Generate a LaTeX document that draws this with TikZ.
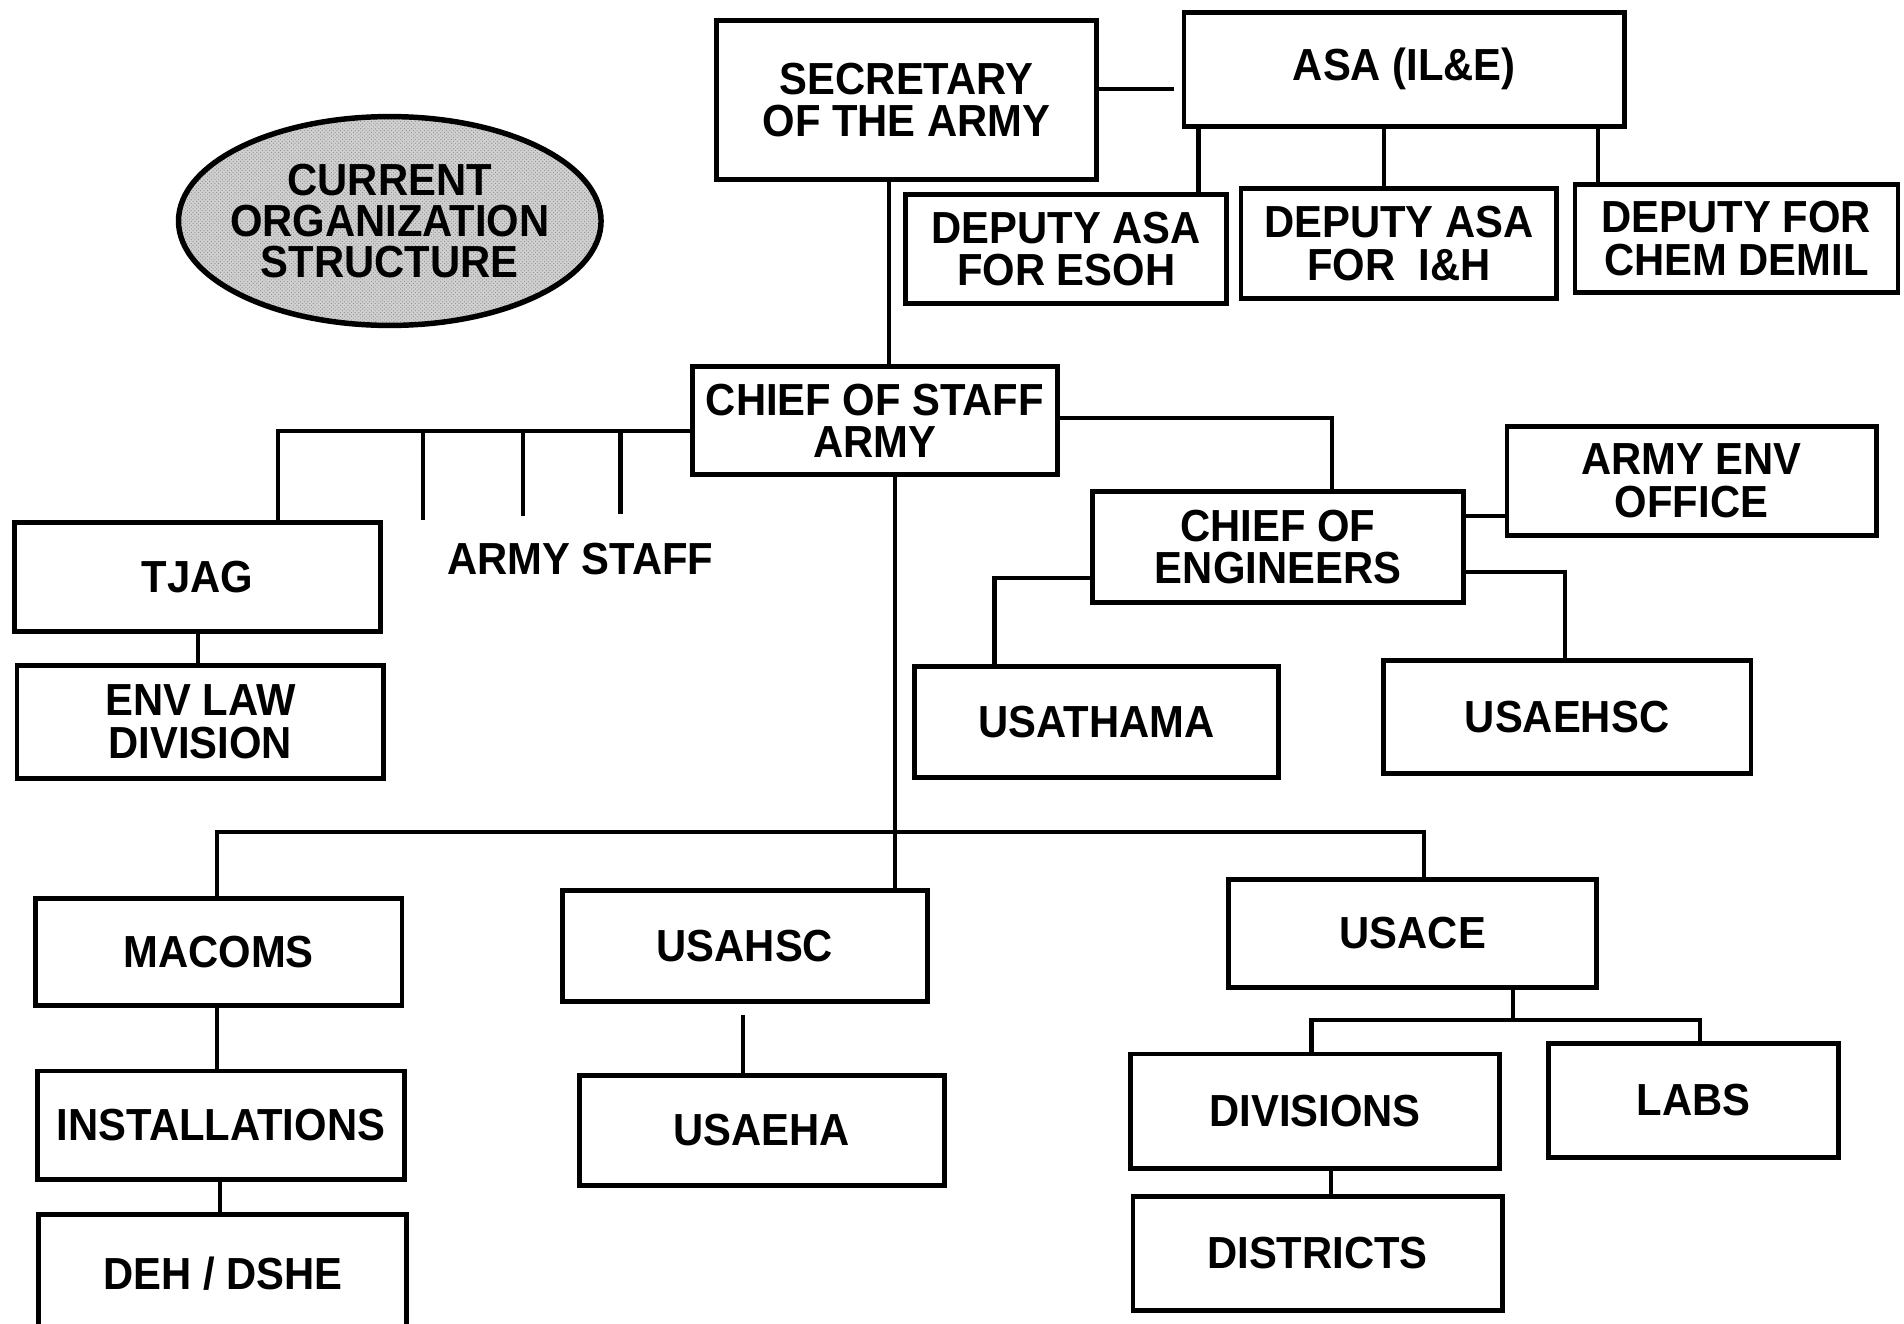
\documentclass[tikz,border=0pt]{standalone}
\usepackage{fontspec}
\setmainfont{Liberation Sans}[FakeStretch=0.93]
\usetikzlibrary{patterns}
\begin{document}
\begin{tikzpicture}[x=1pt,y=-1pt,
  box/.style={draw, line width=4pt, inner sep=0pt, outer sep=0pt, align=center,
    font=\fontsize{37}{35}\selectfont\bfseries},
  conn/.style={line width=3.4pt},
  lbl/.style={inner sep=0pt, align=center, font=\fontsize{37}{35}\selectfont\bfseries}]
\useasboundingbox (0,0) rectangle (1568,1090);
\fill[white] (0,0) rectangle (1568,1090);

% ellipse title
\fill[black!18] (321,182) ellipse [x radius=174, y radius=86];
\fill[pattern=crosshatch dots, pattern color=black!45] (321,182) ellipse [x radius=174, y radius=86];
\draw[line width=4.5pt] (321,182) ellipse [x radius=174, y radius=86];
\node[lbl, font=\fontsize{37}{34}\selectfont\bfseries] (title) at (321,182)
  {CURRENT\\ORGANIZATION\\STRUCTURE};

% boxes
\node[box, minimum width=313pt, minimum height=131pt] (sec) at (746.5,82.5) {SECRETARY\\OF THE ARMY};
\node[box, minimum width=363pt, minimum height=94pt] (asa) at (1156.5,57) {ASA (IL\&E)};
\node[box, minimum width=264pt, minimum height=90pt] (desoh) at (878,205) {DEPUTY ASA\\FOR ESOH};
\node[box, minimum width=260pt, minimum height=91pt] (dih) at (1152,200.5) {DEPUTY ASA\\FOR\ \ I\&H};
\node[box, minimum width=266pt, minimum height=89pt] (dchem) at (1430,196.5) {DEPUTY FOR\\CHEM DEMIL};
\node[box, minimum width=301pt, minimum height=89pt] (cos) at (720.5,346.5) {CHIEF OF STAFF\\ARMY};
\node[box, minimum width=301pt, minimum height=90pt] (tjag) at (162.5,475) {TJAG};
\node[box, minimum width=302pt, minimum height=93pt] (envlaw) at (165,594.5) {ENV LAW\\DIVISION};
\node[lbl] (astaff) at (478,460) {ARMY STAFF};
\node[box, minimum width=305pt, minimum height=91pt] (coe) at (1052.5,450.5) {CHIEF OF\\ENGINEERS};
\node[box, minimum width=304pt, minimum height=90pt] (aeo) at (1393,396) {ARMY ENV\\OFFICE};
\node[box, minimum width=300pt, minimum height=91pt] (usathama) at (903,594.5) {USATHAMA};
\node[box, minimum width=303pt, minimum height=93pt] (usaehsc) at (1290.5,590.5) {USAEHSC};
\node[box, minimum width=302pt, minimum height=88pt] (macoms) at (180,784) {MACOMS};
\node[box, minimum width=302pt, minimum height=89pt] (inst) at (182,926.5) {INSTALLATIONS};
\node[box, minimum width=303pt, minimum height=98pt] (deh) at (183.5,1049) {DEH / DSHE};
\node[box, minimum width=301pt, minimum height=92pt] (usahsc) at (613.5,779) {USAHSC};
\node[box, minimum width=301pt, minimum height=90pt] (usaeha) at (627.5,931) {USAEHA};
\node[box, minimum width=303pt, minimum height=89pt] (usace) at (1163.5,768.5) {USACE};
\node[box, minimum width=304pt, minimum height=94pt] (divisions) at (1083,915) {DIVISIONS};
\node[box, minimum width=239pt, minimum height=94pt] (labs) at (1394.5,906) {LABS};
\node[box, minimum width=304pt, minimum height=94pt] (districts) at (1085,1032) {DISTRICTS};

% helper coordinates
\coordinate (ya) at (0,73);
\coordinate (x1) at (987,0);
\coordinate (x2) at (1140,0);
\coordinate (x3) at (1316,0);
\coordinate (xb) at (732,0);
\coordinate (yc) at (0,355);
\coordinate (xt) at (229,0);
\coordinate (s1) at (348,428);
\coordinate (s2) at (431,425);
\coordinate (s3) at (511,423);
\coordinate (xe) at (163,0);
\coordinate (yd) at (0,344);
\coordinate (xf) at (1097,0);
\coordinate (ye) at (0,425);
\coordinate (yf) at (0,476);
\coordinate (xg) at (819,0);
\coordinate (yg) at (0,471);
\coordinate (xk) at (1289,0);
\coordinate (xh) at (737,0);
\coordinate (yh) at (0,685);
\coordinate (xm) at (179,0);
\coordinate (xu) at (1173,0);
\coordinate (xi) at (181,0);
\coordinate (xj) at (612,0);
\coordinate (xv) at (1246,0);
\coordinate (yv) at (0,840);
\coordinate (xdv) at (1080,0);
\coordinate (xlb) at (1400,0);
\coordinate (xds) at (1096,0);

% connectors
\draw[conn, shorten >=8pt] (sec.east |- ya) -- (asa.west |- ya);
\draw[conn] (asa.south -| x1) -- (desoh.north -| x1);
\draw[conn] (asa.south -| x2) -- (dih.north -| x2);
\draw[conn] (asa.south -| x3) -- (dchem.north -| x3);
\draw[conn] (sec.south -| xb) -- (cos.north -| xb);
\draw[conn] (cos.west |- yc) -| (tjag.north -| xt);
\draw[conn] (s1 |- yc) -- (s1);
\draw[conn] (s2 |- yc) -- (s2);
\draw[conn] (s3 |- yc) -- (s3);
\draw[conn] (tjag.south -| xe) -- (envlaw.north -| xe);
\draw[conn] (cos.east |- yd) -| (coe.north -| xf);
\draw[conn] (coe.east |- ye) -- (aeo.west |- ye);
\draw[conn] (coe.west |- yf) -| (usathama.north -| xg);
\draw[conn] (coe.east |- yg) -| (usaehsc.north -| xk);
\draw[conn] (cos.south -| xh) -- (usahsc.north -| xh);
\draw[conn] (macoms.north -| xm) -- (xm |- yh) -- (xu |- yh) -- (usace.north -| xu);
\draw[conn] (macoms.south -| xm) -- (inst.north -| xm);
\draw[conn] (inst.south -| xi) -- (deh.north -| xi);
\draw[conn, shorten <=11pt] (usahsc.south -| xj) -- (usaeha.north -| xj);
\draw[conn] (usace.south -| xv) -- (xv |- yv);
\draw[conn] (divisions.north -| xdv) -- (xdv |- yv) -- (xlb |- yv) -- (labs.north -| xlb);
\draw[conn] (divisions.south -| xds) -- (districts.north -| xds);
\end{tikzpicture}
\end{document}
